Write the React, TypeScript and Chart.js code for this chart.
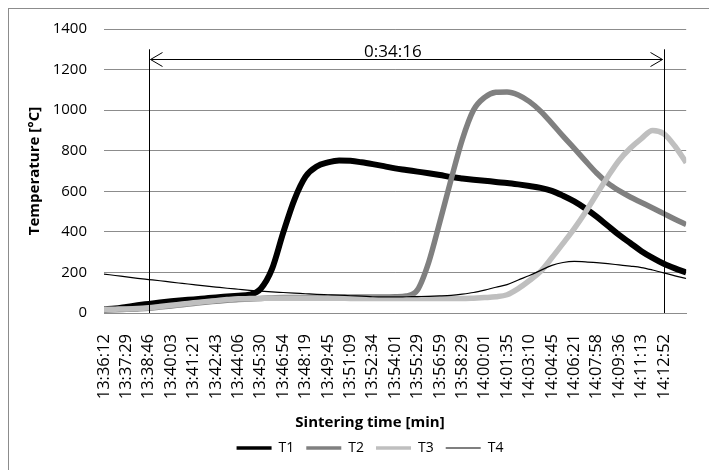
import React, { useEffect, useRef } from 'react';
import { Chart, registerables } from 'chart.js';

Chart.register(...registerables);

// Category tick labels (one every label step)
const timeLabels = [
  '13:36:12', '13:37:29', '13:38:46', '13:40:03', '13:41:21', '13:42:43', '13:44:06',
  '13:45:30', '13:46:54', '13:48:19', '13:49:45', '13:51:09', '13:52:34', '13:54:01',
  '13:55:29', '13:56:59', '13:58:29', '14:00:01', '14:01:35', '14:03:10', '14:04:45',
  '14:06:21', '14:07:58', '14:09:36', '14:11:13', '14:12:52',
];

// Readings sampled every half label step, from 13:36:12 to the right edge
const t1 = [
  18, 22, 30, 38, 45, 52, 58, 63, 67, 72, 77, 81, 85, 90,
  120, 216, 395, 558, 672, 722, 742, 752, 750, 743, 734, 724,
  713, 705, 697, 689, 680, 670, 663, 657, 652, 646, 641, 634,
  626, 617, 602, 578, 550, 515, 475, 430, 385, 345, 305, 272,
  243, 220, 200,
];
const t2 = [
  15, 16, 18, 20, 23, 29, 35, 41, 47, 53, 58, 63, 67, 69,
  72, 74, 76, 77, 77, 78, 78, 78, 79, 79, 79, 79,
  80, 84, 114, 250, 450, 658, 855, 1000, 1063, 1088, 1090, 1075,
  1042, 995, 935, 872, 812, 750, 690, 640, 603, 572, 545, 518,
  490, 462, 436,
];
const t3 = [
  18, 19, 20, 22, 26, 32, 38, 44, 50, 56, 61, 66, 70, 71,
  72, 73, 73, 73, 73, 73, 73, 73, 72, 72, 72, 71,
  71, 71, 71, 71, 71, 71, 71, 73, 76, 80, 90, 120,
  160, 205, 272, 343, 416, 497, 585, 672, 752, 812, 860, 900,
  884, 822, 741,
];
const t4 = [
  192, 185, 178, 171, 165, 159, 152, 146, 140, 134, 128, 122, 117, 112,
  108, 104, 101, 98, 95, 92, 90, 88, 85, 83, 80, 79,
  79, 80, 81, 82, 84, 87, 93, 101, 113, 127, 140, 163,
  185, 210, 235, 249, 254, 252, 248, 243, 237, 231, 224, 212,
  198, 183, 170,
];

const seriesNames = ['T1', 'T2', 'T3', 'T4'];
const seriesValues = [t1, t2, t3, t4];
const seriesColors = ['#000000', '#808080', '#bfbfbf', '#000000'];
const seriesWidths = [6, 5.5, 5.5, 1.2];
const legendWidths = [3.5, 3.5, 3.5, 1.2];

const yMin = 0;
const yMax = 1400;
const yStep = 200;

// Duration annotation
const spanStartIdx = 2;
const spanEndIdx = 25;
const spanLineTop = 1300;
const spanArrowY = 1250;
const spanLabel = '0:34:16';
const spanLabelIdx = 12.9;

const FONT = "'Open Sans', sans-serif";

const spanPlugin = {
  id: 'spanAnnotation',
  afterDatasetsDraw(chart: any) {
    const { ctx } = chart;
    const x = chart.scales.x;
    const y = chart.scales.y;
    const xa = Math.round(x.getPixelForValue(spanStartIdx)) + 0.5;
    const xb = Math.round(x.getPixelForValue(spanEndIdx)) + 0.5;
    const yTop = y.getPixelForValue(spanLineTop);
    const yBottom = y.getPixelForValue(0);
    const yArrow = Math.round(y.getPixelForValue(spanArrowY)) + 0.5;
    ctx.save();
    ctx.strokeStyle = '#000';
    ctx.lineWidth = 1;
    ctx.beginPath();
    ctx.moveTo(xa, yTop);
    ctx.lineTo(xa, yBottom);
    ctx.moveTo(xb, yTop);
    ctx.lineTo(xb, yBottom);
    const la = xa + 1;
    const lb = xb - 2;
    ctx.moveTo(la, yArrow);
    ctx.lineTo(lb, yArrow);
    ctx.moveTo(la + 12, yArrow - 7);
    ctx.lineTo(la, yArrow);
    ctx.lineTo(la + 12, yArrow + 7);
    ctx.moveTo(lb - 12, yArrow - 7);
    ctx.lineTo(lb, yArrow);
    ctx.lineTo(lb - 12, yArrow + 7);
    ctx.stroke();
    ctx.fillStyle = '#000';
    ctx.font = `17px ${FONT}`;
    ctx.textAlign = 'center';
    ctx.textBaseline = 'alphabetic';
    ctx.fillText(spanLabel, x.getPixelForValue(spanLabelIdx), yArrow - 2.5);
    ctx.restore();
  },
};

export default function App() {
  const canvasRef = useRef<HTMLCanvasElement | null>(null);

  useEffect(() => {
    const canvas = canvasRef.current;
    if (!canvas) return;
    const datasets = seriesNames.map((name, i) => ({
      label: name,
      data: seriesValues[i].map((v, k) => ({ x: k / 2, y: v })),
      borderColor: seriesColors[i],
      backgroundColor: seriesColors[i],
      borderWidth: seriesWidths[i],
      pointRadius: 0,
      pointHoverRadius: 0,
      fill: false,
      cubicInterpolationMode: 'monotone' as const,
      borderJoinStyle: 'round' as const,
      order: seriesNames.length - i,
    }));

    const chart = new Chart(canvas, {
      type: 'line',
      data: { datasets },
      plugins: [spanPlugin],
      options: {
        animation: false,
        responsive: false,
        events: [],
        layout: { padding: { left: 13, right: 9, top: 20, bottom: 14 } },
        scales: {
          x: {
            type: 'linear',
            min: 0,
            max: timeLabels.length,
            grid: { display: false, drawTicks: false },
            border: { display: true, color: '#8c8c8c' },
            ticks: {
              stepSize: 1,
              autoSkip: false,
              minRotation: 90,
              maxRotation: 90,
              padding: 21,
              color: '#000',
              font: { family: FONT, size: 16.5 },
              callback: (v: any) => {
                const n = Math.round(Number(v));
                return timeLabels[n] ?? '';
              },
            },
            afterFit: (s: any) => {
              s.height = 90;
            },
          },
          y: {
            type: 'linear',
            position: 'left',
            min: yMin,
            max: yMax,
            grid: { color: '#8c8c8c', lineWidth: 1, drawTicks: false },
            border: { display: false },
            ticks: {
              stepSize: yStep,
              padding: 17,
              color: '#000',
              font: { family: FONT, size: 15 },
              callback: (v: any) => String(v),
            },
            title: {
              display: true,
              text: 'Temperature [°C]',
              color: '#000',
              font: { family: FONT, size: 15, weight: 'bold' },
              padding: { top: 4, bottom: 0 },
            },
            afterFit: (s: any) => {
              s.width = 82;
              s.paddingTop = 10;
              s.paddingBottom = 10;
            },
          },
          yRight: {
            type: 'linear',
            position: 'right',
            display: true,
            grid: { display: false, drawTicks: false },
            border: { display: false },
            ticks: { display: false },
            afterFit: (s: any) => {
              s.width = 23;
              s.paddingTop = 0;
              s.paddingBottom = 0;
            },
          },
        },
        plugins: {
          tooltip: { enabled: false },
          title: {
            display: true,
            text: 'Sintering time [min]',
            position: 'bottom',
            weight: 900,
            color: '#000',
            font: { family: FONT, size: 15, weight: 'bold' },
            padding: { top: 11, bottom: -3 },
          },
          legend: {
            display: true,
            position: 'bottom',
            labels: {
              usePointStyle: true,
              pointStyleWidth: 35,
              padding: 12,
              color: '#000',
              font: { family: FONT, size: 14 },
              generateLabels: (c: any) => {
                const items = (Chart.defaults as any).plugins.legend.labels.generateLabels(c);
                items.sort((a: any, b: any) => a.datasetIndex - b.datasetIndex);
                items.forEach((it: any) => {
                  const i = it.datasetIndex;
                  it.pointStyle = 'line';
                  it.lineWidth = legendWidths[i];
                  it.strokeStyle = seriesColors[i];
                  it.fillStyle = seriesColors[i];
                  it.lineCap = 'butt';
                });
                return items;
              },
            },
          },
        },
      } as any,
    });
    return () => chart.destroy();
  }, []);

  return (
    <div style={{ width: 709, height: 462, overflow: 'hidden' }}>
      <div
        style={{
          width: 720,
          height: 472,
          border: '1px solid #8c8c8c',
          boxSizing: 'border-box',
        }}
      >
        <canvas ref={canvasRef} width={718} height={470} style={{ display: 'block' }} />
      </div>
    </div>
  );
}
